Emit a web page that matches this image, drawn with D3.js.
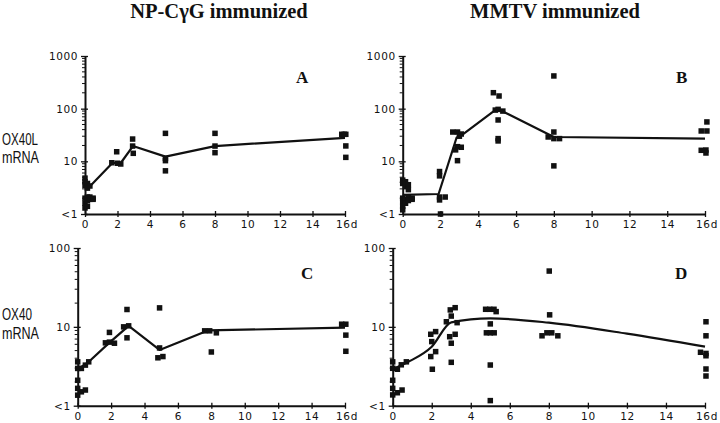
<!DOCTYPE html>
<html lang="en">
<head>
<meta charset="UTF-8">
<title>OX40L / OX40 mRNA</title>
<script src="https://d3js.org/d3.v7.min.js"></script>
<style>
    body { margin: 0; background: #fff; }
    .tick text { font-family: "DejaVu Sans", sans-serif; font-size: 10.5px; letter-spacing: 0.6px; fill: #111; }
    .title { font-family: "Liberation Serif", "Times New Roman", serif; font-weight: bold; font-size: 20.5px; fill: #111; }
    .letter { font-family: "Liberation Serif", serif; font-weight: bold; font-size: 17px; fill: #111; }
    .ylab { font-family: "Liberation Sans", Arial, sans-serif; font-size: 16px; fill: #111; }
</style>
</head>
<body>
<svg width="720" height="423"></svg>
<script>
    // days after immunization, relative mRNA
    const dayTicks = [0, 2, 4, 6, 8, 10, 12, 14, 16];
    const yTicksTop = [1, 10, 100, 1000];
    const yTicksBottom = [1, 10, 100];
    const yTickLabels = {1: "<1", 10: "10", 100: "100", 1000: "1000"};

    const aPoints = [
        [0, 4.8], [0, 4.1], [0, 3.5], [0, 2.0], [0, 1.6], [0, 1.3], [0.15, 3.8], [0.15, 3.1], [0.15, 2.1],
        [0.15, 1.8], [0.15, 1.4], [0.3, 3.4], [0.3, 2.1], [0.3, 1.9], [0.5, 2.0], [0.5, 1.9],
        [1.65, 9.4], [1.95, 15.2], [2.0, 9.2], [2.2, 8.9],
        [2.93, 26.5], [2.93, 19.5], [2.97, 14.2],
        [4.95, 34], [4.95, 11.4], [4.95, 10.3], [4.95, 6.6],
        [8, 34], [8, 19.5], [8, 14.6],
        [15.8, 32.6], [15.95, 32.6], [16.05, 32.6], [16.05, 19.6], [16.05, 11.9]
    ];
    const aLine = [[0.1, 2.9], [1.7, 9.4], [2.2, 9.3], [2.95, 19.5], [4.95, 12.3], [8, 19.5], [16, 28]];

    const bPoints = [
        [0, 4.4], [0, 3.8], [0, 2.0], [0, 1.7], [0, 1.4], [0, 1.2], [0.15, 4.1], [0.15, 3.3], [0.15, 1.9],
        [0.15, 1.6], [0.3, 3.6], [0.3, 2.9], [0.3, 2.1], [0.3, 1.8], [0.5, 2.0], [0.5, 1.9],
        [1.95, 6.4], [1.95, 5.3], [1.95, 2.1], [1.95, 1.85], [2.25, 2.1], [2.0, 1.0],
        [2.65, 36], [2.9, 36], [3.1, 33], [2.9, 19], [3.1, 18.5], [2.8, 16.5], [2.9, 10.3], [3.0, 30],
        [4.8, 201], [5.1, 174], [4.9, 94], [5.05, 97], [5.3, 90], [5.05, 61], [5.05, 27], [5.05, 24.4],
        [8, 418], [8, 36], [7.7, 29], [8, 27], [8.3, 27], [8, 8.2],
        [16.1, 56], [15.8, 37.7], [16.1, 37.7], [15.8, 16.2], [16.05, 16.4], [16.05, 14.4]
    ];
    const bLine = [[0, 2.3], [1.9, 2.4], [2.85, 28], [3.2, 33], [5, 100], [8, 29], [16, 27]];

    const cPoints = [
        [0, 3.6], [0, 2.97], [0.22, 2.97], [0.46, 3.27], [0.66, 3.6], [0, 2.1], [0, 1.66], [0, 1.36],
        [0.22, 1.5], [0.46, 1.58],
        [1.66, 6.27], [1.9, 8.5], [1.9, 6.4], [2.2, 6.2],
        [2.75, 10], [3.05, 10.3], [2.95, 16.6], [2.95, 7.26],
        [4.9, 17.4], [4.9, 5.4], [4.8, 4.05], [5.1, 4.2],
        [7.6, 8.9], [7.9, 8.9], [8.3, 8.4], [8.0, 4.8],
        [15.8, 10.8], [16.05, 10.8], [16.05, 7.85], [16.05, 4.9]
    ];
    const cLine = [[0, 2.9], [0.6, 3.5], [1.9, 6.3], [3.05, 10.3], [4.9, 5.1], [7.8, 9], [16, 9.8]];

    const dPoints = [
        [0, 3.6], [0, 2.98], [0.24, 2.9], [0.44, 3.3], [0.7, 3.6], [0, 2.1], [0, 1.66], [0, 1.37],
        [0.24, 1.46], [0.48, 1.58],
        [1.95, 8.05], [2.2, 8.7], [2.0, 6.5], [2.2, 4.85], [1.95, 4.2], [2.03, 2.9],
        [2.75, 11.6], [2.95, 16.4], [3.2, 17.5], [3.0, 13.7], [3.3, 11.3], [2.92, 7.5], [3.2, 8.05],
        [3.0, 6.2], [3.0, 3.55],
        [4.76, 16.7], [4.97, 16.7], [5.19, 16.7], [5.3, 15.6], [5.0, 10.9], [4.8, 8.4], [5.0, 8.4],
        [5.2, 8.4], [5.0, 3.28], [5.0, 1.16],
        [8.02, 51], [8.04, 14.2], [7.65, 7.7], [7.9, 8.4], [8.15, 8.4], [8.46, 7.7],
        [16.05, 11.6], [16.05, 7.7], [15.77, 4.76], [16.05, 4.6], [16.05, 4.3], [16.05, 2.92], [16.05, 2.38]
    ];
    const dLine = [[0, 2.9], [0.8, 3.6], [2, 5.6], [3, 11.4], [5, 12.8], [8, 11.3], [12, 8.2], [16, 5.6]];

    let svg = d3.select("svg");

    function minorTicks(top) {
        let out = [];
        for (let d = 1; d < top; d *= 10) {
            for (let k = 2; k <= 9; k++) out.push(d * k);
        }
        return out;
    }

    function drawPanel(p) {
        const x = d3.scaleLinear().domain([0, 16]).range([p.x0, p.x1]);
        const y = d3.scaleLog().domain([1, p.top]).range([p.yBot, p.yTop]);
        const g = svg.append("g");

        // x axis
        let xa = g.append("g")
            .attr("transform", `translate(0,${p.yBot})`)
            .call(d3.axisBottom(x).tickValues(dayTicks).tickSizeOuter(0)
                .tickFormat(d => d === 16 ? "16d" : d));
        xa.select(".domain").attr("stroke", "#111").attr("stroke-width", 2);
        xa.selectAll(".tick line").attr("y1", -3).attr("y2", 3).attr("stroke", "#111").attr("stroke-width", 1.3);
        xa.selectAll(".tick text").attr("y", 7).attr("dx", d => d === 16 ? 1.5 : 0);

        // y axis
        let ya = g.append("g")
            .attr("transform", `translate(${p.x0},0)`)
            .call(d3.axisLeft(y).tickValues(p.ticks).tickSizeOuter(0)
                .tickFormat(d => yTickLabels[d]));
        ya.select(".domain").attr("stroke", "#111").attr("stroke-width", 2);
        ya.selectAll(".tick line").attr("x1", -4).attr("x2", 3).attr("stroke", "#111").attr("stroke-width", 1.3);
        ya.selectAll(".tick text").attr("x", -7);

        g.append("g").selectAll("line")
            .data(minorTicks(p.top))
            .enter().append("line")
            .attr("x1", p.x0 - 3).attr("x2", p.x0)
            .attr("y1", d => y(d)).attr("y2", d => y(d))
            .attr("stroke", "#111").attr("stroke-width", 1);

        // mean line
        g.append("path")
            .datum(p.line)
            .attr("fill", "none")
            .attr("stroke", "#111")
            .attr("stroke-width", 2.2)
            .attr("stroke-linejoin", "round")
            .attr("d", d3.line().x(d => x(d[0])).y(d => y(d[1])).curve(p.smooth ? d3.curveMonotoneX : d3.curveLinear));

        // individual animals
        const s = 5.5;
        g.append("g").selectAll("rect")
            .data(p.points)
            .enter().append("rect")
            .attr("x", d => x(d[0]) - s / 2)
            .attr("y", d => y(Math.max(d[1], 1)) - s / 2)
            .attr("width", s).attr("height", s)
            .attr("fill", "#111");

        g.append("text").attr("class", "letter")
            .attr("x", p.lx).attr("y", p.ly).text(p.letter);
    }

    drawPanel({x0: 85, x1: 345, yTop: 56, yBot: 214, top: 1000, ticks: yTicksTop,
        points: aPoints, line: aLine, letter: "A", lx: 296, ly: 83});
    drawPanel({x0: 402.7, x1: 705, yTop: 56, yBot: 214, top: 1000, ticks: yTicksTop,
        points: bPoints, line: bLine, letter: "B", lx: 676, ly: 83});
    drawPanel({x0: 77.7, x1: 345, yTop: 248, yBot: 405.7, top: 100, ticks: yTicksBottom,
        points: cPoints, line: cLine, letter: "C", lx: 301, ly: 279});
    drawPanel({x0: 392.7, x1: 705, yTop: 248, yBot: 405.7, top: 100, ticks: yTicksBottom,
        points: dPoints, line: dLine, letter: "D", lx: 675, ly: 279, smooth: true});

    // column titles
    svg.append("text").attr("class", "title").attr("x", 219).attr("y", 18)
        .attr("text-anchor", "middle").text("NP-C\u03b3G immunized");
    svg.append("text").attr("class", "title").attr("x", 555).attr("y", 18)
        .attr("text-anchor", "middle").text("MMTV immunized");

    // row labels
    const rowLabels = [["OX40L", 145, 36], ["mRNA", 163, 37], ["OX40", 320, 30], ["mRNA", 339, 37]];
    svg.selectAll(".ylab").data(rowLabels).enter().append("text")
        .attr("class", "ylab")
        .attr("x", 2).attr("y", d => d[1])
        .attr("textLength", d => d[2]).attr("lengthAdjust", "spacingAndGlyphs")
        .text(d => d[0]);
</script>
</body>
</html>
